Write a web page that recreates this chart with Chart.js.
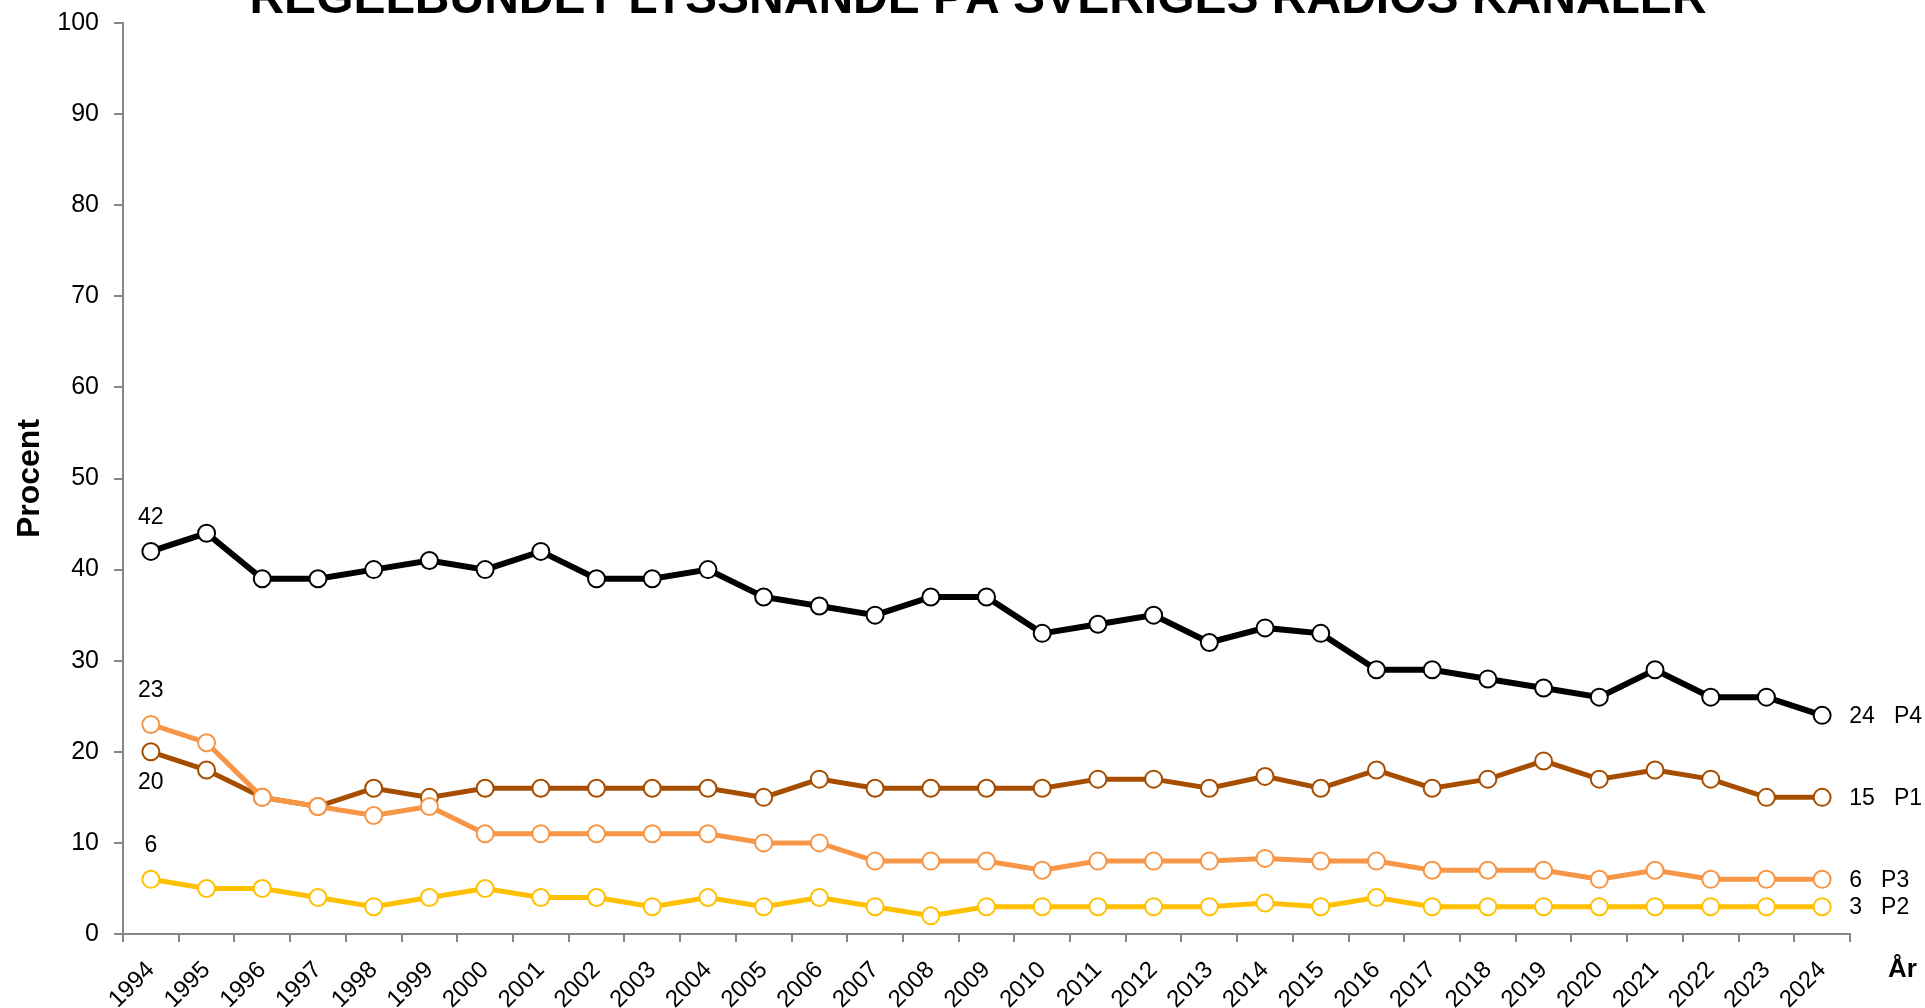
<!DOCTYPE html>
<html>
<head>
<meta charset="utf-8">
<script src="https://cdn.jsdelivr.net/npm/chart.js@4.4.1/dist/chart.umd.min.js"></script>
<style>
body { margin: 0; background: #fff; }
</style>
</head>
<body>
<canvas id="radio_chart" width="1925" height="1008"></canvas>
<script>
var chartTitle = 'REGELBUNDET LYSSNANDE PÅ SVERIGES RADIOS KANALER';

var years = ['1994', '1995', '1996', '1997', '1998', '1999', '2000', '2001', '2002', '2003',
             '2004', '2005', '2006', '2007', '2008', '2009', '2010', '2011', '2012', '2013',
             '2014', '2015', '2016', '2017', '2018', '2019', '2020', '2021', '2022', '2023', '2024'];

var p4 = [42, 44, 39, 39, 40, 41, 40, 42, 39, 39, 40, 37, 36, 35, 37, 37, 33, 34, 35, 32,
          33.6, 33, 29, 29, 28, 27, 26, 29, 26, 26, 24];
var p1 = [20, 18, 15, 14, 16, 15, 16, 16, 16, 16, 16, 15, 17, 16, 16, 16, 16, 17, 17, 16,
          17.3, 16, 18, 16, 17, 19, 17, 18, 17, 15, 15];
var p3 = [23, 21, 15, 14, 13, 14, 11, 11, 11, 11, 11, 10, 10, 8, 8, 8, 7, 8, 8, 8,
          8.3, 8, 8, 7, 7, 7, 6, 7, 6, 6, 6];
var p2 = [6, 5, 5, 4, 3, 4, 5, 4, 4, 3, 4, 3, 4, 3, 2, 3, 3, 3, 3, 3,
          3.4, 3, 4, 3, 3, 3, 3, 3, 3, 3, 3];

var yTicks = [0, 10, 20, 30, 40, 50, 60, 70, 80, 90, 100];

var axisColor = '#868686';
var fontFamily = '"Liberation Sans", Arial, sans-serif';

function makeSeries(name, values, color, width, startLabel) {
    return {
        label: name,
        data: values,
        borderColor: color,
        backgroundColor: color,
        borderWidth: width,
        pointRadius: 8.5,
        pointHoverRadius: 8.5,
        pointBorderWidth: 2,
        pointBorderColor: color,
        pointBackgroundColor: '#ffffff',
        tension: 0,
        startLabel: startLabel
    };
}

// draws title, first/last value labels and the "År" label
var textPlugin = {
    id: 'texts',
    afterDatasetsDraw: function(chart) {
        var ctx = chart.ctx;
        var xs = chart.scales.x;
        var ys = chart.scales.y;
        ctx.save();
        ctx.fillStyle = '#000';

        ctx.font = 'bold 48px ' + fontFamily;
        ctx.textAlign = 'center';
        ctx.textBaseline = 'alphabetic';
        ctx.fillText(chartTitle, 978, 13);

        ctx.font = '23px ' + fontFamily;
        chart.data.datasets.forEach(function(ds) {
            var first = ds.data[0];
            var last = ds.data[ds.data.length - 1];
            var x0 = xs.getPixelForValue(0);
            var y0 = ys.getPixelForValue(first);
            ctx.textAlign = 'center';
            ctx.textBaseline = 'middle';
            var dy = ds.startLabel === 'below' ? 31 : -34;
            ctx.fillText(String(first), x0, y0 + dy);

            var xn = xs.getPixelForValue(ds.data.length - 1);
            var yn = ys.getPixelForValue(last);
            ctx.textAlign = 'left';
            ctx.fillText(last + '   ' + ds.label, xn + 27, yn + 1);
        });

        ctx.font = 'bold 26px ' + fontFamily;
        ctx.textAlign = 'left';
        ctx.textBaseline = 'alphabetic';
        ctx.fillText('År', 1888, 977);
        ctx.restore();
    }
};

var ctx = document.getElementById('radio_chart').getContext('2d');
var lineChart = new Chart(ctx, {
    type: 'line',
    data: {
        labels: years,
        datasets: [
            makeSeries('P4', p4, '#000000', 6, 'above'),
            makeSeries('P3', p3, '#F79646', 5, 'above'),
            makeSeries('P1', p1, '#A64D00', 5, 'below'),
            makeSeries('P2', p2, '#FFC000', 5, 'above')
        ]
    },
    options: {
        responsive: false,
        animation: false,
        events: [],
        layout: {
            padding: { left: 0, top: 23, right: 75, bottom: 0 }
        },
        scales: {
            x: {
                offset: true,
                grid: {
                    offset: true,
                    drawOnChartArea: false,
                    drawTicks: true,
                    tickLength: 8,
                    color: axisColor,
                    lineWidth: 2
                },
                border: { color: axisColor, width: 2 },
                ticks: {
                    color: '#000',
                    minRotation: 45,
                    maxRotation: 45,
                    autoSkip: false,
                    padding: 14,
                    font: { family: fontFamily, size: 24 }
                },
                afterFit: function(scale) {
                    scale.height = 74;
                    scale.paddingLeft = 0;
                    scale.paddingRight = 0;
                }
            },
            y: {
                min: 0,
                max: 100,
                afterBuildTicks: function(scale) {
                    scale.ticks = yTicks.map(function(v) { return { value: v }; });
                },
                grid: {
                    drawOnChartArea: false,
                    drawTicks: true,
                    tickLength: 9,
                    color: axisColor,
                    lineWidth: 2
                },
                border: { color: axisColor, width: 2 },
                ticks: {
                    color: '#000',
                    padding: 15,
                    font: { family: fontFamily, size: 25 }
                },
                title: {
                    display: true,
                    text: 'Procent',
                    color: '#000',
                    padding: { top: 11, bottom: 0 },
                    font: { family: fontFamily, size: 32, weight: 'bold' }
                },
                afterFit: function(scale) {
                    scale.width = 123;
                    scale.paddingTop = 0;
                    scale.paddingBottom = 0;
                }
            }
        },
        plugins: {
            legend: { display: false },
            tooltip: { enabled: false },
            title: { display: false }
        }
    },
    plugins: [textPlugin]
});
</script>
</body>
</html>
